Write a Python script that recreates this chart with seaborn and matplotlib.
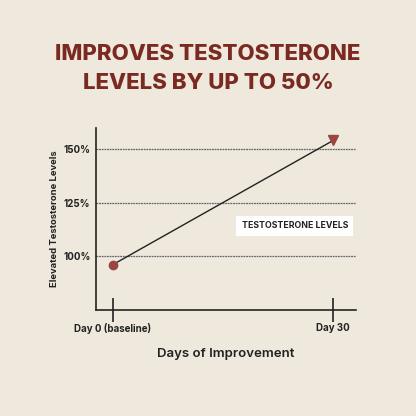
import matplotlib
matplotlib.use("Agg")
import matplotlib.pyplot as plt
import seaborn as sns
import pandas as pd

# data
days = [0, 30]
levels = [96, 154]
day_labels = ["Day 0 (baseline)", "Day 30"]
y_ticks = [100, 125, 150]
y_tick_labels = ["100%", "125%", "150%"]

bg = "#eee8dd"
title_red = "#7b2a22"
dot_red = "#9b4640"
ink = "#222222"

sns.set_theme(style="white")
plt.rcParams["font.family"] = ["Inter", "DejaVu Sans"]

df = pd.DataFrame({"day": days, "level": levels})

fig = plt.figure(figsize=(4.16, 4.16), dpi=100, facecolor=bg)
ax = fig.add_axes([0.2308, 0.2548, 0.625, 0.4375])
ax.set_facecolor(bg)

sns.lineplot(data=df, x="day", y="level", color=ink, linewidth=1.0, ax=ax)
ax.plot(days[0], levels[0], "o", color=dot_red, markersize=6, zorder=5)
ax.plot(days[-1], levels[-1], "v", color=dot_red, markersize=7, zorder=5)

for v in y_ticks:
    ax.axhline(v, color="#666666", linewidth=0.9, linestyle=(0, (1.5, 0.6)), zorder=0)

ax.set_xlim(-2.3, 33.1)
ax.set_ylim(74.8, 159.8)
ax.set_xticks(days)
ax.set_xticklabels(day_labels, fontsize=7, fontweight="bold", color=ink)
ax.set_yticks(y_ticks)
ax.set_yticklabels(y_tick_labels, fontsize=7, fontweight="bold", color=ink)
ax.tick_params(axis="x", direction="inout", length=17, width=1.2, color=ink, pad=1, bottom=True)
ax.tick_params(axis="y", length=0, pad=4)

for s in ["top", "right"]:
    ax.spines[s].set_visible(False)
for s in ["left", "bottom"]:
    ax.spines[s].set_color(ink)
    ax.spines[s].set_linewidth(1.2)

ax.set_xlabel("Days of Improvement", fontsize=9.5, fontweight="semibold", color=ink, labelpad=10)
ax.set_ylabel("Elevated Testosterone Levels", fontsize=6.8, fontweight="bold", color=ink, labelpad=3)

ax.text(0.765, 0.462, "TESTOSTERONE LEVELS", transform=ax.transAxes, ha="center", va="center",
        fontsize=6.3, fontweight="bold", color=ink,
        bbox=dict(boxstyle="square,pad=0.6", facecolor="white", edgecolor="none"))

fig.text(0.5, 0.870, "IMPROVES TESTOSTERONE", ha="center", va="center",
         fontsize=16, fontweight="heavy", color=title_red)
fig.text(0.5, 0.801, "LEVELS BY UP TO 50%", ha="center", va="center",
         fontsize=16, fontweight="heavy", color=title_red)

fig.savefig("out.png", dpi=100, facecolor=bg)
